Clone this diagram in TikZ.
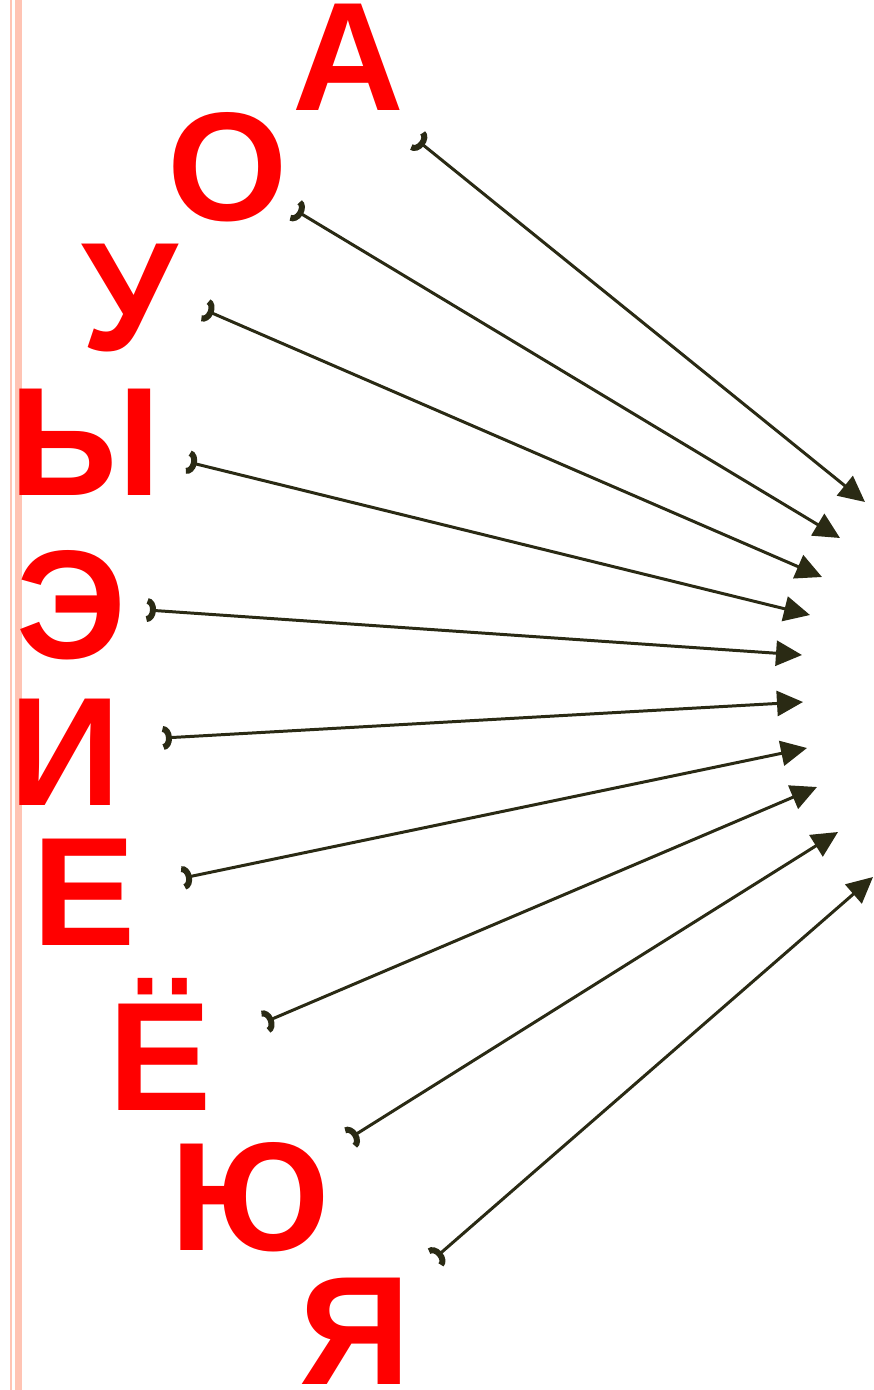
\documentclass[tikz,border=0pt]{standalone}
\usepackage{fontspec}
\setmainfont{Liberation Sans}
\usetikzlibrary{arrows.meta}
\definecolor{Red}{HTML}{FF0000}
\definecolor{Rose}{HTML}{FFC4B4}
\definecolor{Olive}{HTML}{2A2A14}
\tikzset{
  vowel/.style={anchor=base,text=Red,inner sep=0pt,
    font=\fontsize{44}{44}\selectfont\bfseries},
  link/.style={{Arc Barb[reversed,length=.9mm,width=2.4mm,line width=1.7pt]}-{Triangle[length=2.6mm,width=2.5mm]},
    draw=Olive,line width=.85pt}
}
\begin{document}
\begin{tikzpicture}[x=0.01cm,y=-0.01cm]
    \useasboundingbox (0,0) rectangle (874,1390);
    % margin rule
    \fill[Rose] (10,0) rectangle (12,1390);
    \fill[Rose] (15,0) rectangle (22,1390);
    \foreach \n/\l/\x/\y/\tx/\ty/\hx/\hy in {
      a/А/348/110/417/140/865/502, o/О/228/220/295/210/840/538,
      u/У/130/350/205/310/822/577, y/Ы/85/495/188/462/810/615,
      e/Э/72/658/147/610/802/655, i/И/65/805/163/738/803/702,
      ye/Е/84/945/183/878/807/748, yo/Ё/160/1110/265/1022/817/787,
      yu/Ю/250/1250/350/1138/838/832, ya/Я/355/1384/435/1258/873/877}{
      \node[vowel] (\n) at (\x,\y) {\l};
      \coordinate (t\n) at (\tx,\ty);
      \coordinate (h\n) at (\hx,\hy);
      \draw[link] (t\n)--(h\n);
    }
  \end{tikzpicture}
\end{document}
